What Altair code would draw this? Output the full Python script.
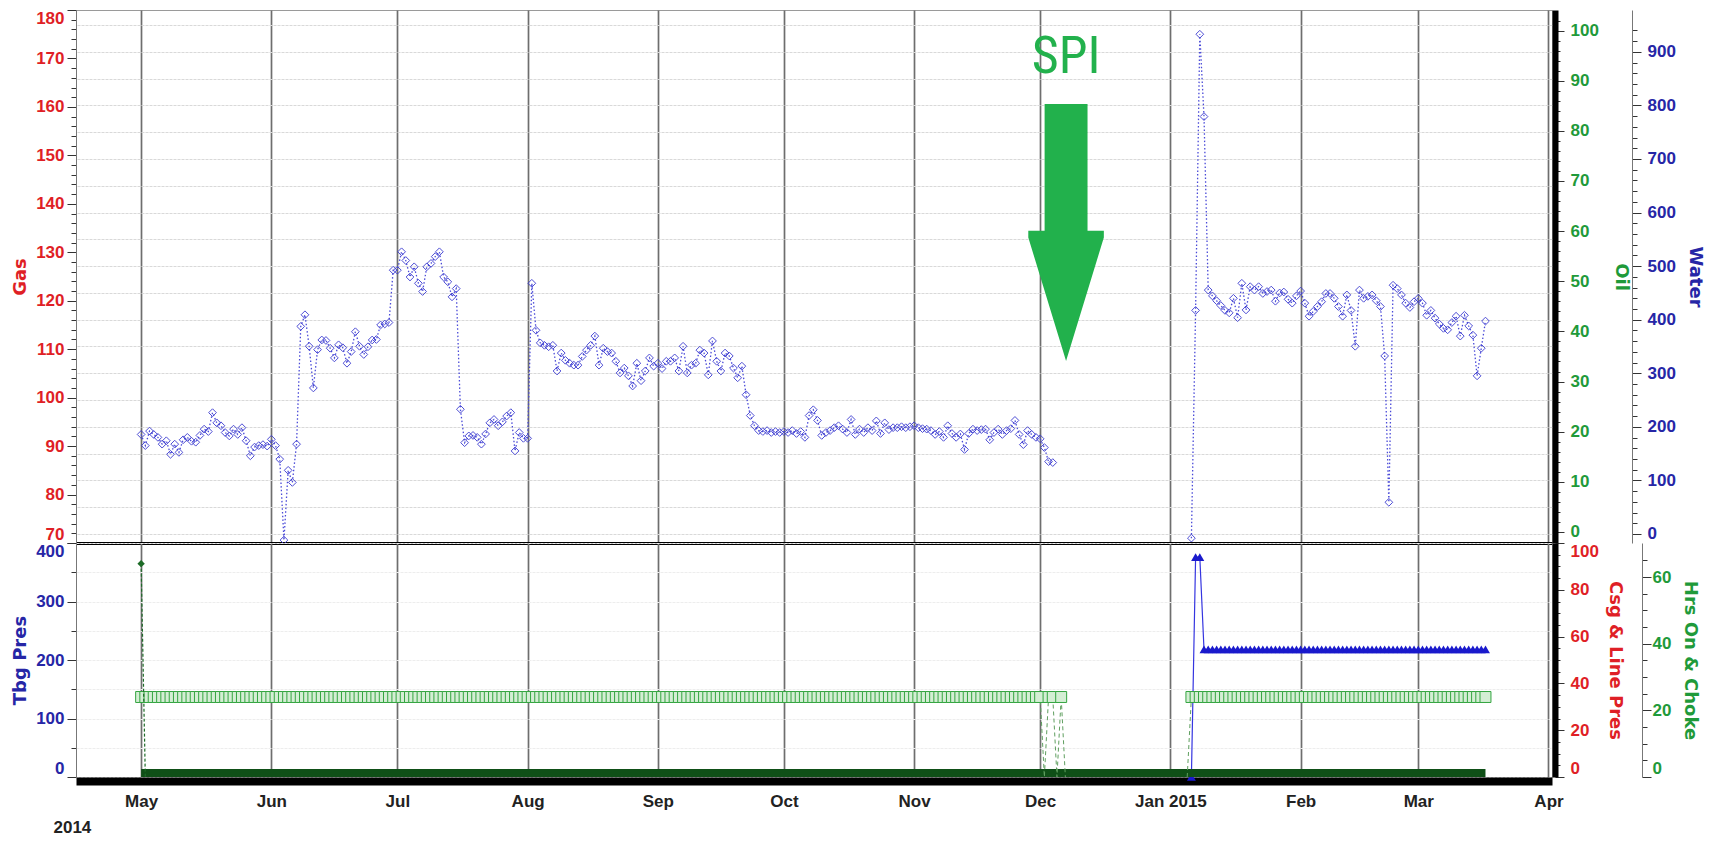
import altair as alt
import pandas as pd

FONT = "Liberation Sans"
TITLE_FONT = "DejaVu Sans"
RED = "#df1f26"
GREEN = "#1f9a3a"
BLUE = "#2626a6"
ARROW_GREEN = "#22b14c"
DIAMOND_BLUE = "#3b3bd1"

# ---------------- x axis ----------------
tick_months = [(2014, 5), (2014, 6), (2014, 7), (2014, 8), (2014, 9), (2014, 10),
               (2014, 11), (2014, 12), (2015, 1), (2015, 2), (2015, 3), (2015, 4)]
x_start = alt.DateTime(year=2014, month=4, date=15, hours=12)
x_end = alt.DateTime(year=2015, month=4, date=1, hours=20)

# ---------------- top panel: daily readings (Gas axis units) ----------------
may_gas = [92.4, 90.1, 93.1, 92.4, 91.8, 90.4, 91.1, 88.3, 90.4, 88.7, 91.3, 91.8, 91.0, 90.8, 92.2,
           93.5, 93.0, 96.9, 94.8, 94.2, 92.8, 92.1, 93.5, 92.4, 93.8, 91.1, 88.0, 89.8, 90.1, 90.3, 90.0]
jun_gas = [91.4, 90.1, 87.3, 70.6, 85.0, 82.5, 90.4, 114.7, 117.1, 110.6, 102.0, 109.9, 111.9, 111.8, 110.2,
           108.2, 110.9, 110.3, 107.1, 109.5, 113.6, 110.6, 108.9, 110.5, 111.9, 112.0, 115.0, 115.2, 115.5, 126.3]
jul_gas = [126.3, 130.1, 128.3, 124.9, 127.0, 123.6, 121.9, 127.0, 127.7, 129.1, 130.1, 124.9, 123.9, 120.8,
           122.5, 97.6, 90.7, 92.1, 92.2, 91.8, 90.4, 92.5, 94.8, 95.5, 94.2, 95.0, 96.2, 96.9, 89.0, 92.8, 91.6]
aug_gas = [91.6, 123.6, 113.9, 111.3, 110.8, 110.5, 110.8, 105.5, 109.2, 107.7, 107.1, 106.7, 106.7, 108.5,
           109.8, 110.8, 112.7, 106.7, 110.2, 109.5, 109.2, 107.5, 105.1, 106.1, 104.5, 102.4, 107.1, 103.5,
           105.5, 108.2, 106.5]
sep_gas = [107.1, 106.0, 107.5, 107.5, 108.2, 105.5, 110.6, 105.1, 106.7, 107.1, 109.8, 109.2, 104.7, 111.7,
           107.5, 105.5, 109.2, 108.6, 106.1, 104.1, 106.5, 100.6, 96.3, 94.2, 93.2, 93.0, 93.2, 92.8, 93.0, 92.8]
oct_gas = [93.0, 92.8, 93.2, 92.6, 93.0, 91.8, 96.3, 97.5, 95.3, 92.2, 92.8, 93.2, 93.8, 94.2, 93.5, 92.8,
           95.5, 92.4, 93.5, 92.8, 93.8, 93.2, 95.2, 92.6, 94.8, 93.4, 93.8, 93.8, 94.0, 93.8, 94.0]
nov_gas = [94.2, 93.8, 93.6, 93.5, 93.2, 92.4, 93.0, 91.8, 94.2, 92.6, 91.8, 92.5, 89.3, 92.6, 93.5, 93.2,
           93.4, 93.5, 91.3, 92.8, 93.5, 92.4, 93.2, 93.6, 95.3, 92.4, 90.3, 93.2, 92.4, 91.8]
dec_gas = [91.5, 89.7, 86.8, 86.6]
jan_gas = [71.0, 118.0, 175.0, 158.0, 122.2, 121.0, 120.0, 119.0, 118.0, 117.5, 120.5, 116.5, 123.6, 118.1,
           122.9, 122.2, 122.9, 121.5, 121.9, 122.2, 119.9, 121.6, 121.8, 120.3, 119.5, 121.0]
feb_gas = [122.0, 119.5, 116.8, 117.8, 118.8, 119.8, 121.5, 121.5, 120.5, 118.8, 116.8, 121.2, 118.0, 110.6,
           122.2, 120.5, 120.9, 121.2, 120.0, 118.8, 108.6, 78.4, 123.2, 122.5, 121.2, 119.5, 118.6, 119.8]
mar_gas = [120.5, 119.5, 117.0, 118.0, 116.4, 115.2, 114.3, 114.0, 115.5, 116.8, 112.7, 117.0, 114.8, 112.9,
           104.5, 110.2, 115.8]

gas_months = [("2014-05-01", may_gas, 1), ("2014-06-01", jun_gas, 1), ("2014-07-01", jul_gas, 1),
              ("2014-08-01", aug_gas, 1), ("2014-09-01", sep_gas, 1), ("2014-10-01", oct_gas, 1),
              ("2014-11-01", nov_gas, 1), ("2014-12-01", dec_gas, 1), ("2015-01-06", jan_gas, 2),
              ("2015-02-01", feb_gas, 2), ("2015-03-01", mar_gas, 2)]

# annotation (SPI arrow)
spi_label = ["SPI"]
spi_date = ["2014-12-07T04:00:00"]
spi_text_gas = [170.4]
spi_arrow_gas = [134.1]

# axis label values
gas_labels = [70, 80, 90, 100, 110, 120, 130, 140, 150, 160, 170, 180]
oil_labels = [0, 10, 20, 30, 40, 50, 60, 70, 80, 90, 100]
water_labels = [0, 100, 200, 300, 400, 500, 600, 700, 800, 900]

# ---------------- bottom panel ----------------
hrs_on_runs = [("2014-05-01", "2014-11-30", 24), ("2015-01-06", "2015-03-17", 24)]
hrs_on_dec = [24, 0, 24, 24, 0, 24, 0]          # 2014-12-01 .. 2014-12-07
hrs_on_jan_start = [0]                           # 2015-01-05
tbg_jan = [0, 376, 376]                          # 2015-01-06 .. 2015-01-08
tbg_run = ("2015-01-09", "2015-03-17", 218)
choke_dates = ["2014-05-01", "2014-05-02"]
choke_values = [64, 0]
choke_band = [("2014-05-01", "2015-03-17", 0)]

tbg_labels = [0, 100, 200, 300, 400]
csg_labels = [0, 20, 40, 60, 80, 100]
hrs_labels = [0, 20, 40, 60]


def iso(d):
    return pd.Timestamp(d).strftime("%Y-%m-%dT%H:%M:%S")


# ---- build tables ----
rows = []
for start, vals, seg in gas_months:
    for d, v in zip(pd.date_range(start, periods=len(vals), freq="D"), vals):
        rows.append({"date": iso(d), "gas": v, "seg": seg})
gas_df = pd.DataFrame(rows)

hrs_rows = []
for d in pd.date_range(hrs_on_runs[0][0], hrs_on_runs[0][1], freq="D"):
    hrs_rows.append({"date": iso(d), "hrs": hrs_on_runs[0][2], "seg": 1})
for d, v in zip(pd.date_range("2014-12-01", periods=len(hrs_on_dec), freq="D"), hrs_on_dec):
    hrs_rows.append({"date": iso(d), "hrs": v, "seg": 1})
for d, v in zip(pd.date_range("2015-01-05", periods=1, freq="D"), hrs_on_jan_start):
    hrs_rows.append({"date": iso(d), "hrs": v, "seg": 2})
for d in pd.date_range(hrs_on_runs[1][0], hrs_on_runs[1][1], freq="D"):
    hrs_rows.append({"date": iso(d), "hrs": hrs_on_runs[1][2], "seg": 2})
hrs_df = pd.DataFrame(hrs_rows)

tbg_rows = []
for d, v in zip(pd.date_range("2015-01-06", periods=len(tbg_jan), freq="D"), tbg_jan):
    tbg_rows.append({"date": iso(d), "tbg": v})
for d in pd.date_range(tbg_run[0], tbg_run[1], freq="D"):
    tbg_rows.append({"date": iso(d), "tbg": tbg_run[2]})
tbg_df = pd.DataFrame(tbg_rows)

choke_df = pd.DataFrame({"date": [iso(d) for d in choke_dates], "hrs": choke_values})
band_df = pd.DataFrame({"start": [iso(b[0]) for b in choke_band], "end": [iso(b[1]) for b in choke_band],
                        "hrs": [b[2] for b in choke_band]})
spi_df = pd.DataFrame({"date": spi_date, "text_gas": spi_text_gas, "arrow_gas": spi_arrow_gas,
                       "label": spi_label})

# ---------------- scales / axes ----------------
W = 1476
H_TOP = 533
H_BOT = 234

xscale = alt.Scale(domain=[x_start, x_end])
month_values = [alt.DateTime(year=y, month=m, date=1) for (y, m) in tick_months]

x_axis_top = alt.Axis(values=month_values, labels=False, ticks=False, domain=True, domainColor="black",
                      domainWidth=3, grid=True, gridColor="#6e6e6e", gridWidth=1.7, title=None)
x_axis_bot = alt.Axis(values=month_values, ticks=False, domain=True, domainColor="black", domainWidth=8,
                      offset=4, grid=True, gridColor="#6e6e6e", gridWidth=1.7,
                      labelExpr="month(datum.value) == 0 ? 'Jan 2015' : timeFormat(datum.value, '%b')",
                      labelFont=FONT, labelFontSize=17, labelFontWeight="bold", labelColor="#222222",
                      labelPadding=12, labelOverlap=False,
                      title="2014", titleFont=FONT, titleFontSize=17, titleFontWeight="bold",
                      titleColor="#222222", titleX=-23, titleY=46, titleAlign="left",
                      titleBaseline="middle")


def yaxis(title, color, orient, step_values, major, offset=0, flush=False, domain_color="#777777",
          domain_width=1, grid=False, grid_every=None, title_pad=12, label_pad=3, tick_every=None,
          grid_color="#d9d9d9"):
    kw = dict(values=step_values, orient=orient, offset=offset,
              labelExpr=f"datum.value % {major} == 0 ? datum.label : ''",
              tickSize={"condition": {"test": f"datum.value % {major} == 0", "value": 9}, "value": 5},
              tickColor="#333333", labelColor=color, labelFont=FONT, labelFontSize=17,
              labelFontWeight="bold", labelPadding=label_pad, labelOverlap=False, labelFlush=flush,
              title=title, titleColor=color, titleFont=TITLE_FONT, titleFontSize=18, titleFontWeight="bold",
              titlePadding=title_pad, domainColor=domain_color, domainWidth=domain_width, grid=grid)
    if tick_every is not None:
        kw["tickOpacity"] = {"condition": {"test": f"datum.value % {tick_every} == 0", "value": 1}, "value": 0}
    if grid and grid_every is not None:
        kw["gridOpacity"] = {"condition": {"test": f"datum.value % {grid_every} == 0", "value": 1}, "value": 0}
        kw["gridColor"] = grid_color
        kw["gridDash"] = [3, 1]
    return alt.Axis(**kw)


gas_scale = alt.Scale(domain=[70, 180], nice=False, zero=False)
oil_scale = alt.Scale(domain=[-2.2, 104.1], nice=False, zero=False)
water_scale = alt.Scale(domain=[-16.9, 978], nice=False, zero=False)
tbg_scale = alt.Scale(domain=[0, 400], nice=False, zero=False)
csg_scale = alt.Scale(domain=[0, 100], nice=False, zero=False)
hrs_scale = alt.Scale(domain=[0, 70.2], nice=False, zero=False)

gas_axis = yaxis("Gas", RED, "left", list(range(gas_labels[0], gas_labels[-1] + 1, 2)), 10, flush=True,
                 title_pad=6)
oil_axis = yaxis("Oil", GREEN, "right", list(range(0, 103, 2)), 10, offset=3, domain_color="black",
                 domain_width=6, label_pad=6, title_pad=13)
water_axis = yaxis("Water", BLUE, "right", list(range(0, 951, 10)), 100, offset=80, grid=True,
                   grid_every=50, label_pad=6, title_pad=10, tick_every=20)
tbg_axis = yaxis("Tbg Pres", BLUE, "left", list(range(0, 401, 50)), 100, flush=True, grid=True,
                 grid_every=50, title_pad=6, grid_color="#ededed")
csg_axis = yaxis("Csg & Line Pres", RED, "right", list(range(0, 101, 5)), 20, offset=3, flush=True,
                 domain_color="black", domain_width=6, label_pad=6, title_pad=7)
hrs_axis = yaxis("Hrs On & Choke", GREEN, "right", list(range(0, 66, 5)), 20, offset=90, flush=True,
                 label_pad=1, title_pad=10)

ARROW_PATH = ("M -0.167 -1 L 0.167 -1 L 0.167 -0.012 L 0.294 -0.012 L 0.294 0.04 "
              "L 0 1 L -0.294 0.04 L -0.294 -0.012 L -0.167 -0.012 Z")

xt = alt.X("date:T", scale=xscale, axis=x_axis_top)
xb = alt.X("date:T", scale=xscale, axis=x_axis_bot)

# ---------------- top panel ----------------
gas_line = alt.Chart(gas_df).mark_line(color="#4a4ad8", strokeWidth=1.3, strokeDash=[1.5, 2.2]).encode(
    x=xt, y=alt.Y("gas:Q", scale=gas_scale, axis=gas_axis), detail="seg:N")
gas_pts = alt.Chart(gas_df).mark_point(shape="diamond", size=60, filled=False, strokeWidth=1,
                                       color=DIAMOND_BLUE, opacity=0.9).encode(
    x=xt, y=alt.Y("gas:Q", scale=gas_scale, axis=gas_axis))
spi_arrow = alt.Chart(spi_df).mark_point(shape=ARROW_PATH, size=66049, filled=True, color=ARROW_GREEN,
                                         opacity=1, strokeWidth=0).encode(
    x=xt, y=alt.Y("arrow_gas:Q", scale=gas_scale, axis=gas_axis))
spi_text = alt.Chart(spi_df).mark_text(font="Liberation Sans Narrow, Roboto Condensed, Roboto", fontSize=52,
                                       color=ARROW_GREEN, align="center", baseline="middle").encode(
    x=xt, y=alt.Y("text_gas:Q", scale=gas_scale, axis=gas_axis), text="label:N")
gas_layer = alt.layer(gas_line, gas_pts, spi_arrow, spi_text)

oil_dummy = alt.Chart(pd.DataFrame({"oil": oil_labels})).mark_point(opacity=0).encode(
    y=alt.Y("oil:Q", scale=oil_scale, axis=oil_axis))
water_dummy = alt.Chart(pd.DataFrame({"water": water_labels})).mark_point(opacity=0).encode(
    y=alt.Y("water:Q", scale=water_scale, axis=water_axis))

top = alt.layer(water_dummy, oil_dummy, gas_layer).resolve_scale(y="independent").properties(
    width=W, height=H_TOP)

# ---------------- bottom panel ----------------
band = alt.Chart(band_df).mark_rule(strokeWidth=8, color="#0f4f17", yOffset=-4).encode(
    x=alt.X("start:T", scale=xscale, axis=x_axis_bot), x2="end:T",
    y=alt.Y("hrs:Q", scale=hrs_scale, axis=hrs_axis))
hrs_line = alt.Chart(hrs_df).mark_line(color="#5f9f5f", strokeWidth=1, strokeDash=[4, 3]).encode(
    x=xb, y=alt.Y("hrs:Q", scale=hrs_scale, axis=hrs_axis), detail="seg:N")
hrs_pts = alt.Chart(hrs_df).transform_filter("datum.hrs > 0").mark_point(
    shape="square", size=120, filled=True, fill="#d4eed4", stroke="#34a540", strokeWidth=1, opacity=1).encode(
    x=xb, y=alt.Y("hrs:Q", scale=hrs_scale, axis=hrs_axis))
choke_line = alt.Chart(choke_df).mark_line(color="#1d6b27", strokeWidth=1.2, strokeDash=[3, 2]).encode(
    x=xb, y=alt.Y("hrs:Q", scale=hrs_scale, axis=hrs_axis))
choke_pt = alt.Chart(choke_df.iloc[:1]).mark_point(shape="diamond", size=55, filled=True,
                                                    color="#1d6b27", opacity=1).encode(
    x=xb, y=alt.Y("hrs:Q", scale=hrs_scale, axis=hrs_axis))
hrs_layer = alt.layer(band, hrs_line, hrs_pts, choke_line, choke_pt)

tbg_line = alt.Chart(tbg_df).mark_line(color="#3535e0", strokeWidth=1.2).encode(
    x=xb, y=alt.Y("tbg:Q", scale=tbg_scale, axis=tbg_axis))
tbg_pts = alt.Chart(tbg_df).mark_point(shape="triangle-up", size=80, filled=True, color="#1a1acc",
                                       opacity=1).encode(
    x=xb, y=alt.Y("tbg:Q", scale=tbg_scale, axis=tbg_axis))
tbg_layer = alt.layer(tbg_line, tbg_pts)

csg_dummy = alt.Chart(pd.DataFrame({"csg": csg_labels})).mark_point(opacity=0).encode(
    y=alt.Y("csg:Q", scale=csg_scale, axis=csg_axis))

bottom = alt.layer(tbg_layer, csg_dummy, hrs_layer).resolve_scale(y="independent").properties(
    width=W, height=H_BOT)

chart = alt.vconcat(top, bottom, spacing=0, bounds="flush").properties(
    padding={"left": 3, "top": 0, "right": 4, "bottom": 0}, background="white"
).configure_view(stroke="#9a9a9a", strokeWidth=1)

chart.save("out.html", embed_options={"renderer": "svg", "actions": False})
